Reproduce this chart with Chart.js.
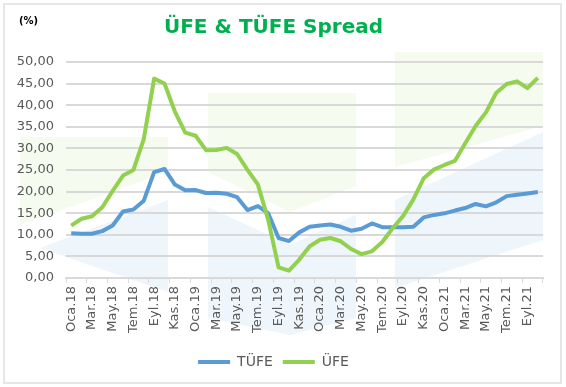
<!DOCTYPE html>
<html>
<head>
<meta charset="utf-8">
<script src="https://cdn.jsdelivr.net/npm/chart.js@4"></script>
<style>
  html, body { margin: 0; padding: 0; background: #fff; }
  .frame { position: absolute; left: 3px; top: 3px; width: 555px; height: 377px; border: 2px solid #e6e6e6; }
  .wrap { position: absolute; left: 0; top: 0; width: 566px; height: 387px; }
</style>
</head>
<body>
<div class="frame"></div>
<div class="wrap"><canvas id="chart"></canvas></div>
<script>
// aylar: Oca.18 .. Eki.21
const months = ['Oca', 'Şub', 'Mar', 'Nis', 'May', 'Haz', 'Tem', 'Ağu', 'Eyl', 'Eki', 'Kas', 'Ara'];
const years = ['18', '19', '20', '21'];
const lastMonthCount = 10; // 2021 ends at Eki

const categories = [];
years.forEach((y, yi) => {
    const n = yi === years.length - 1 ? lastMonthCount : 12;
    for (let m = 0; m < n; m++) categories.push(months[m] + '.' + y);
});

// yıllık % değişim
const tufe = [10.35, 10.26, 10.23, 10.85, 12.15, 15.39, 15.85, 17.90, 24.52, 25.24, 21.62, 20.30,
              20.35, 19.67, 19.71, 19.50, 18.71, 15.72, 16.65, 15.01, 9.26, 8.55, 10.56, 11.84,
              12.15, 12.37, 11.86, 10.94, 11.39, 12.62, 11.76, 11.77, 11.75, 11.89, 14.03, 14.60,
              14.97, 15.61, 16.19, 17.14, 16.59, 17.53, 18.95, 19.25, 19.58, 19.89];
const ufe = [12.14, 13.71, 14.28, 16.37, 20.16, 23.71, 25.00, 32.13, 46.15, 45.01, 38.54, 33.64,
             32.93, 29.59, 29.64, 30.12, 28.71, 25.04, 21.66, 13.45, 2.45, 1.70, 4.26, 7.36,
             8.84, 9.26, 8.50, 6.71, 5.53, 6.17, 8.33, 11.53, 14.33, 18.20, 23.11, 25.15,
             26.16, 27.09, 31.20, 35.17, 38.33, 42.89, 44.92, 45.52, 43.96, 46.31];

const yMin = 0, yMax = 50, yStep = 5;

const FONT = 'DejaVu Sans';
const GREY = '#595959';
const GRID = '#d9d9d9';

// soluk arka plan okları (dekor)
const decor = [
    { c: 'rgba(146,208,80,0.09)', p: [[20, 137], [168, 137], [168, 172], [20, 225]] },
    { c: 'rgba(91,155,213,0.10)', p: [[168, 200], [40, 248], [168, 292]] },
    { c: 'rgba(146,208,80,0.09)', p: [[208, 93], [356, 93], [356, 186], [290, 212], [208, 172]] },
    { c: 'rgba(91,155,213,0.10)', p: [[208, 207], [290, 245], [356, 215], [356, 318], [290, 335], [208, 318]] },
    { c: 'rgba(146,208,80,0.09)', p: [[395, 52], [543, 52], [543, 126], [395, 167]] },
    { c: 'rgba(91,155,213,0.10)', p: [[395, 200], [543, 132], [543, 240], [395, 288]] },
];

const decorPlugin = {
    id: 'decor',
    beforeDraw(chart) {
        const ctx = chart.ctx;
        ctx.save();
        decor.forEach(d => {
            ctx.fillStyle = d.c;
            ctx.beginPath();
            d.p.forEach((pt, i) => i ? ctx.lineTo(pt[0], pt[1]) : ctx.moveTo(pt[0], pt[1]));
            ctx.closePath();
            ctx.fill();
        });
        ctx.restore();
    },
    afterDraw(chart) {
        const ctx = chart.ctx;
        ctx.save();
        ctx.font = 'bold 10px ' + FONT;
        ctx.fillStyle = '#000';
        ctx.textBaseline = 'middle';
        ctx.fillText('(%)', 19, 21);
        ctx.restore();
    }
};

new Chart(document.getElementById('chart'), {
    type: 'line',
    data: {
        labels: categories,
        datasets: [{
            label: 'TÜFE',
            data: tufe,
            borderColor: '#5b9bd5',
            backgroundColor: '#5b9bd5',
            borderWidth: 4,
            pointRadius: 0,
            pointStyle: 'line',
            tension: 0,
            borderJoinStyle: 'round',
            order: 1,
        }, {
            label: 'ÜFE',
            data: ufe,
            borderColor: '#92d050',
            backgroundColor: '#92d050',
            borderWidth: 4,
            pointRadius: 0,
            pointStyle: 'line',
            tension: 0,
            borderJoinStyle: 'round',
            order: 0,
        }],
    },
    options: {
        responsive: true,
        maintainAspectRatio: false,
        animation: false,
        layout: { padding: { left: 4, right: 23, top: 0, bottom: 8 } },
        plugins: {
            title: {
                display: true,
                text: 'ÜFE & TÜFE Spread',
                color: '#00b050',
                font: { family: FONT, size: 20, weight: 'bold' },
                padding: { top: 16, bottom: 22 },
            },
            legend: {
                position: 'bottom',
                labels: {
                    usePointStyle: true,
                    pointStyleWidth: 32,
                    color: GREY,
                    font: { family: FONT, size: 14 },
                    padding: 10,
                    sort: (a, b) => a.datasetIndex - b.datasetIndex,
                },
            },
            tooltip: { enabled: false },
        },
        scales: {
            x: {
                offset: true,
                grid: {
                    offset: true,
                    drawOnChartArea: false,
                    drawTicks: true,
                    tickLength: 5,
                    lineWidth: 1,
                    color: c => (c.index === undefined || c.index % 2 === 0) ? GRID : 'rgba(0,0,0,0)',
                },
                border: { display: true, color: GRID, width: 2 },
                ticks: {
                    autoSkip: false,
                    maxRotation: 90,
                    minRotation: 90,
                    padding: 3,
                    color: GREY,
                    font: { family: FONT, size: 13 },
                    callback: (v, i) => i % 2 === 0 ? categories[i] : '',
                },
                afterFit: s => { s.height = 67; },
            },
            y: {
                min: yMin,
                max: yMax,
                grid: { color: GRID, lineWidth: 2, drawTicks: false },
                border: { display: false },
                ticks: {
                    stepSize: yStep,
                    padding: 12,
                    color: GREY,
                    font: { family: FONT, size: 13 },
                    callback: v => v.toFixed(2).replace('.', ','),
                },
                afterFit: s => { s.width = 62; },
            },
        },
    },
    plugins: [decorPlugin],
});
</script>
</body>
</html>
